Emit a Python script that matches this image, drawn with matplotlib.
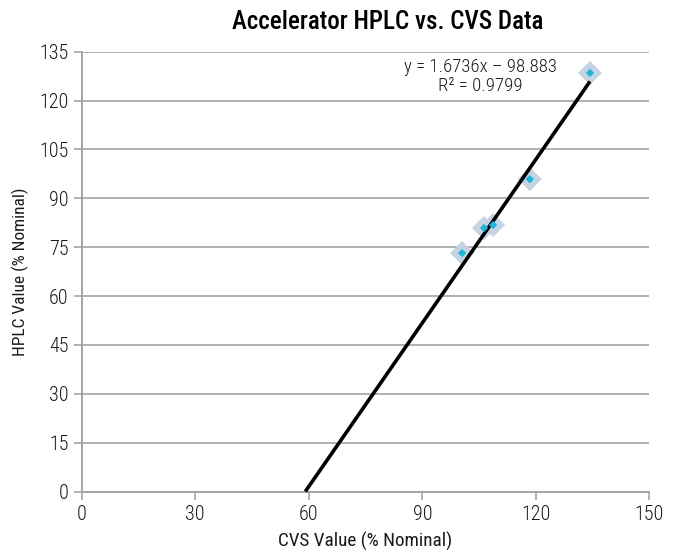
import matplotlib
matplotlib.use("Agg")
import matplotlib.pyplot as plt
import numpy as np

plt.rcParams['font.family'] = ['Roboto Condensed', 'DejaVu Sans']
plt.rcParams['font.weight'] = 'light'

# CVS vs HPLC measurements (% nominal)
cvs = [100.5, 106.3, 108.7, 118.4, 134.3]
hplc = [73.2, 80.9, 81.8, 95.9, 128.5]

# linear trendline coefficients
slope = 1.6736
intercept = -98.883
r2 = 0.9799

x_ticks = [0, 30, 60, 90, 120, 150]
y_ticks = [0, 15, 30, 45, 60, 75, 90, 105, 120, 135]

grey = '#a4a4a4'
ink = '#1a1a1a'

fig = plt.figure(figsize=(6.77, 5.52), dpi=100)
ax = fig.add_axes([0.1207, 0.1096, 0.8385, 0.7967])

ax.set_xlim(0, 150)
ax.set_ylim(0, 135)
ax.set_xticks(x_ticks)
ax.set_yticks(y_ticks)
ax.yaxis.grid(True, color=grey, lw=1.2)
ax.set_axisbelow(True)

for side in ['top', 'right']:
    ax.spines[side].set_visible(False)
for side in ['left', 'bottom']:
    ax.spines[side].set_color(grey)
    ax.spines[side].set_linewidth(1.4)
ax.tick_params(axis='both', colors=grey, length=6, width=1.2, labelsize=14.5,
               labelcolor=ink)
ax.tick_params(axis='x', pad=4)

# trendline from the x-intercept up to the last data point
x0 = -intercept / slope
xl = np.array([x0, max(cvs)])
ax.plot(xl, slope * xl + intercept, color='black', lw=2.6, zorder=3,
        solid_capstyle='butt', clip_on=False)

ax.scatter(cvs, hplc, marker='D', s=150, color='#c5d4e5', edgecolors='none', zorder=2)
ax.scatter(cvs, hplc, marker='D', s=18, color='#1fb5d6', edgecolors='none', zorder=4)

eq = 'y = %.4fx \u2013 %.3f\nR\u00b2 = %.4f' % (slope, -intercept, r2)
ax.text(105.4, 127.4, eq, ha='center', va='center', fontsize=13.5,
        linespacing=1.05, color=ink)

fig.text(0.573, 0.961, 'Accelerator HPLC vs. CVS Data', ha='center', va='center',
         fontsize=18, fontweight='medium', color='black')
ax.set_xlabel('CVS Value (% Nominal)', fontsize=13.8, labelpad=5, color=ink)
ax.set_ylabel('HPLC Value (% Nominal)', fontsize=12.5, labelpad=7, color=ink)

fig.savefig('out.png', dpi=100)
